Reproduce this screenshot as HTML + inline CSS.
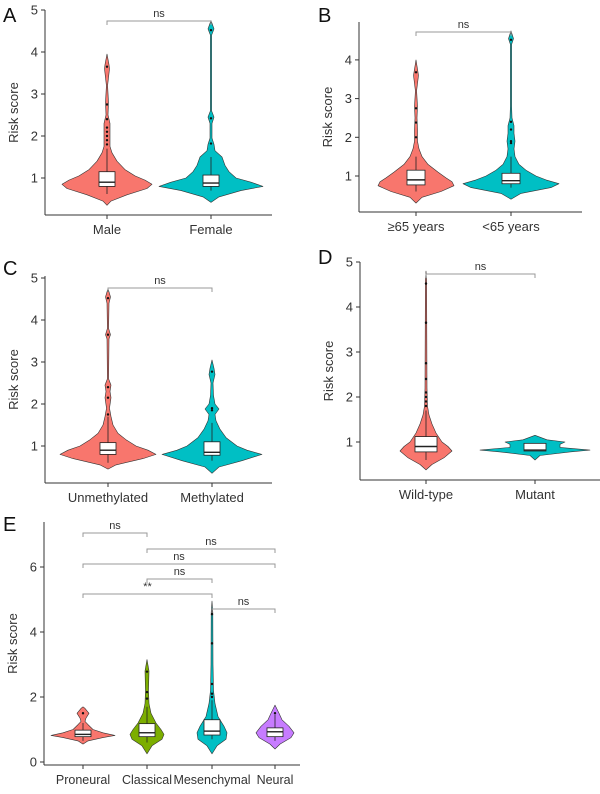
<!DOCTYPE html>
<html><head><meta charset="utf-8"><style>
body{margin:0;background:#fff}
svg text{font-family:"Liberation Sans",sans-serif;fill:#333}
</style></head><body>
<svg id="s" width="600" height="789" viewBox="0 0 600 789" xmlns="http://www.w3.org/2000/svg"></svg>
<script>
const S=document.getElementById('s');let h='';
const R='#F8766D',C='#00BFC4',G='#7CAE00',P='#C77CFF';
function panel(o){
 h+=`<line x1="${o.ax}" y1="${o.top}" x2="${o.ax}" y2="${o.yb}" stroke="#333" stroke-width="1"/>`;
 h+=`<line x1="${o.ax}" y1="${o.yb}" x2="${o.x1}" y2="${o.yb}" stroke="#333" stroke-width="1"/>`;
 o.ticks.forEach(t=>{const y=o.f(t);h+=`<line x1="${o.ax-4}" y1="${y}" x2="${o.ax}" y2="${y}" stroke="#333"/><text x="${o.ax-7}" y="${y+4.5}" font-size="13" text-anchor="end">${t}</text>`});
 h+=`<text transform="translate(${o.ax-27},${(o.top+o.yb)/2}) rotate(-90)" font-size="13" text-anchor="middle">Risk score</text>`;
 h+=`<text x="${o.lx}" y="${o.ly}" font-size="20" style="fill:#111">${o.label}</text>`;
 o.cats.forEach(c=>{
  h+=`<line x1="${c.x}" y1="${o.yb}" x2="${c.x}" y2="${o.yb+4}" stroke="#333"/><text x="${c.x}" y="${o.yb+19}" font-size="${o.fs||13}" text-anchor="middle">${c.n}</text>`;
  const pts=c.v;let L=[],Rr=[];
  pts.forEach(p=>{const y=o.f(p[0]);Rr.push(`${(c.x+p[1]).toFixed(1)},${y.toFixed(1)}`);L.unshift(`${(c.x-p[1]).toFixed(1)},${y.toFixed(1)}`)});
  h+=`<polygon points="${Rr.join(' ')} ${L.join(' ')}" fill="${c.col}" stroke="#333" stroke-width="0.6" stroke-linejoin="round"/>`;
  const b=c.b,w=c.bw||8;
  h+=`<line x1="${c.x}" y1="${o.f(b[0])}" x2="${c.x}" y2="${o.f(b[4])}" stroke="#222" stroke-width="0.8"/>`;
  h+=`<rect x="${c.x-w}" y="${o.f(b[3])}" width="${2*w}" height="${o.f(b[1])-o.f(b[3])}" fill="#fff" stroke="#222" stroke-width="0.8"/>`;
  h+=`<line x1="${c.x-w}" y1="${o.f(b[2])}" x2="${c.x+w}" y2="${o.f(b[2])}" stroke="#222" stroke-width="1.4"/>`;
  (c.out||[]).forEach(v=>h+=`<circle cx="${c.x}" cy="${o.f(v)}" r="1.2" fill="#111"/>`);
 });
 (o.br||[]).forEach(b=>{const y=b[2];
  h+=`<polyline points="${b[0]},${y+4} ${b[0]},${y} ${b[1]},${y} ${b[1]},${y+4}" fill="none" stroke="#999" stroke-width="1"/>`;
  h+=`<text x="${(b[0]+b[1])/2}" y="${y-4}" font-size="11" text-anchor="middle">${b[3]||'ns'}</text>`});
}
const male=[[0.35,0],[0.45,4],[0.6,20],[0.75,40],[0.85,45],[0.95,38],[1.05,28],[1.2,18],[1.4,10],[1.6,5],[1.75,3],[2.0,3],[2.3,3],[2.5,1],[2.8,1.5],[3.2,0.6],[3.6,2.5],[3.7,2],[3.95,0]];
const fem=[[0.42,0],[0.55,8],[0.7,30],[0.8,52],[0.9,40],[1.0,25],[1.15,18],[1.3,14],[1.5,11],[1.65,4],[1.8,3],[1.95,1],[2.3,1],[2.45,3],[2.6,0.6],[4.4,0.6],[4.55,3],[4.75,0]];
panel({ax:45,top:10,yb:215,x1:272,f:v=>220-42*v,ticks:[1,2,3,4,5],label:'A',lx:3,ly:22,
 cats:[{x:107,n:'Male',col:R,v:male,b:[0.62,0.8,0.9,1.15,1.7],out:[1.8,1.9,2.0,2.1,2.2,2.4,2.75,3.65]},
       {x:211,n:'Female',col:C,v:fem,b:[0.7,0.8,0.88,1.07,1.5],out:[1.82,2.42,4.52]}],br:[[107,211,21]]});
const old=[[0.3,0],[0.45,6],[0.6,25],[0.75,38],[0.85,36],[0.95,30],[1.1,22],[1.3,12],[1.5,6],[1.7,3],[1.9,1.5],[2.2,1.5],[2.5,1],[2.8,1.5],[3.2,0.6],[3.6,2.5],[4.0,0]];
const yng=[[0.4,0],[0.55,10],[0.7,40],[0.8,48],[0.9,35],[1.0,25],[1.15,15],[1.3,8],[1.5,4],[1.7,3],[1.9,4],[2.1,3],[2.3,3],[2.5,1],[2.8,0.6],[4.4,0.6],[4.55,2.5],[4.75,0]];
panel({ax:359,top:22,yb:212,x1:582,f:v=>214.7-38.7*v,ticks:[1,2,3,4],label:'B',lx:318,ly:22,
 cats:[{x:416,n:'≥65 years',col:R,v:old,b:[0.6,0.77,0.9,1.15,1.5],bw:9,out:[2.0,2.38,2.75,3.68]},
       {x:511,n:'<65 years',col:C,v:yng,b:[0.7,0.8,0.88,1.07,1.5],bw:9,out:[1.85,1.9,2.2,2.4,4.52]}],br:[[416,511,32]]});
const unm=[[0.45,0],[0.55,8],[0.7,35],[0.8,48],[0.9,40],[1.0,28],[1.15,18],[1.3,10],[1.5,5],[1.7,3],[1.9,1.5],[2.15,3],[2.3,2],[2.45,3],[2.6,0.6],[3.55,1],[3.65,2.5],[3.8,0.6],[4.4,1],[4.55,2.5],[4.75,0]];
const met=[[0.35,0],[0.5,7],[0.65,30],[0.8,50],[0.9,35],[1.0,25],[1.2,14],[1.4,8],[1.6,4],[1.75,3],[1.88,7],[2.0,3],[2.2,1.5],[2.5,1],[2.7,3],[2.85,2],[3.05,0]];
panel({ax:45,top:276,yb:483,x1:272,f:v=>488-42*v,ticks:[1,2,3,4,5],label:'C',lx:3,ly:275,
 cats:[{x:108,n:'Unmethylated',col:R,v:unm,b:[0.6,0.8,0.9,1.08,1.7],out:[1.75,2.15,2.4,3.65,4.52]},
       {x:212,n:'Methylated',col:C,v:met,b:[0.65,0.78,0.85,1.1,1.55],out:[1.85,1.9,2.77]}],br:[[108,212,288]]});
const wt=[[0.38,0],[0.5,6],[0.65,18],[0.8,26],[0.9,22],[1.0,16],[1.2,10],[1.4,6],[1.6,3],[1.8,1.5],[2.2,1],[4.6,0.6],[4.8,0]];
const mu=[[0.6,0],[0.7,5],[0.78,35],[0.82,55],[0.88,25],[0.95,25],[1.0,30],[1.05,12],[1.15,0]];
panel({ax:360,top:262,yb:480,x1:600,f:v=>487-45*v,ticks:[1,2,3,4,5],label:'D',lx:318,ly:264,
 cats:[{x:426,n:'Wild-type',col:R,v:wt,b:[0.6,0.78,0.9,1.12,1.7],bw:11,out:[1.8,1.9,2.0,2.1,2.4,2.75,3.65,4.52]},
       {x:535,n:'Mutant',col:C,v:mu,b:[0.8,0.8,0.82,0.97,0.97],bw:11,out:[]}],br:[[426,535,274]]});
const pn=[[0.55,0],[0.65,5],[0.75,20],[0.82,32],[0.9,20],[1.0,10],[1.15,5],[1.25,2],[1.35,3],[1.5,6],[1.65,2],[1.7,0]];
const cl=[[0.25,0],[0.5,5],[0.7,15],[0.85,17],[1.0,14],[1.2,9],[1.5,4],[1.8,2],[2.2,1.5],[2.8,2],[3.15,0]];
const ms=[[0.25,0],[0.5,5],[0.7,14],[0.9,15],[1.1,12],[1.4,6],[1.8,3],[2.2,1.5],[3,1],[4.6,0.8],[4.95,0]];
const ne=[[0.4,0],[0.55,5],[0.75,16],[0.9,19],[1.1,14],[1.3,7],[1.5,4],[1.75,0]];
panel({ax:44,top:522,yb:765,x1:300,f:v=>762-32.5*v,ticks:[0,2,4,6],label:'E',lx:3,ly:531,fs:12.5,
 cats:[{x:83,n:'Proneural',col:R,v:pn,b:[0.65,0.78,0.85,0.98,1.2],out:[1.5]},
       {x:147,n:'Classical',col:G,v:cl,b:[0.6,0.78,0.9,1.18,1.7],out:[1.95,2.15,2.78]},
       {x:212,n:'Mesenchymal',col:C,v:ms,b:[0.7,0.83,0.95,1.3,1.9],out:[2.0,2.1,2.4,3.65,4.55]},
       {x:275,n:'Neural',col:P,v:ne,b:[0.65,0.78,0.93,1.05,1.45],out:[1.5]}],
 br:[[83,147,533],[147,275,549],[83,275,564],[147,212,579],[83,212,594,'**'],[212,275,609]]});
S.innerHTML=h;
</script>
</body></html>
